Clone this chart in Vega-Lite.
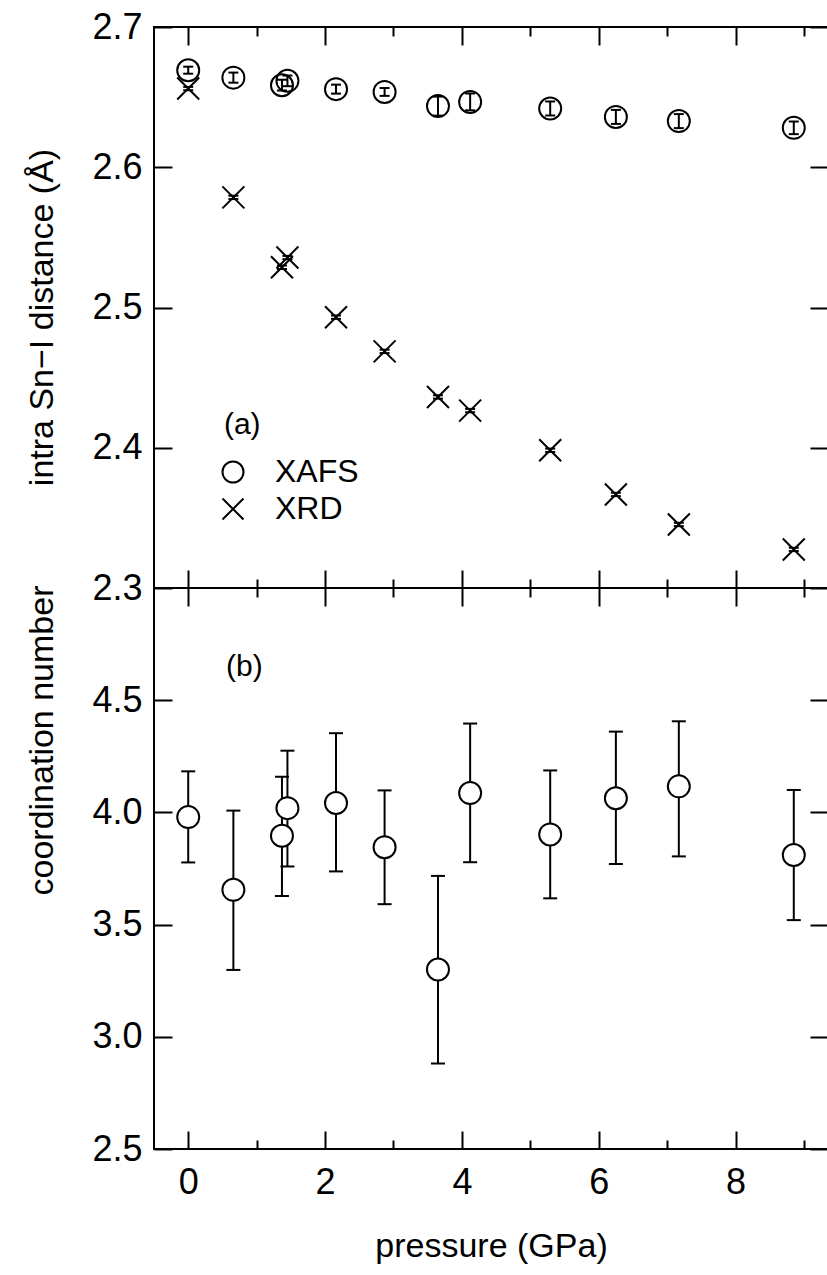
{
  "$schema": "https://vega.github.io/schema/vega-lite/v6.json",
  "padding": {"left": 24, "top": 8, "right": 1, "bottom": 4},
  "background": "white",
  "datasets": {
    "dist": [
      {"p": 0, "series": "XAFS", "v": 2.6692, "lo": 2.6667, "hi": 2.6717},
      {"p": 0.66, "series": "XAFS", "v": 2.6639, "lo": 2.6603, "hi": 2.6675},
      {"p": 1.37, "series": "XAFS", "v": 2.6585, "lo": 2.6547, "hi": 2.6623},
      {"p": 1.45, "series": "XAFS", "v": 2.6616, "lo": 2.6578, "hi": 2.6654},
      {"p": 2.16, "series": "XAFS", "v": 2.6557, "lo": 2.6525, "hi": 2.6589},
      {"p": 2.87, "series": "XAFS", "v": 2.6537, "lo": 2.6509, "hi": 2.6565},
      {"p": 3.65, "series": "XAFS", "v": 2.6436, "lo": 2.6368, "hi": 2.6504},
      {"p": 4.12, "series": "XAFS", "v": 2.6466, "lo": 2.6406, "hi": 2.6526},
      {"p": 5.29, "series": "XAFS", "v": 2.6419, "lo": 2.6369, "hi": 2.6469},
      {"p": 6.25, "series": "XAFS", "v": 2.6359, "lo": 2.6309, "hi": 2.6409},
      {"p": 7.17, "series": "XAFS", "v": 2.6329, "lo": 2.6279, "hi": 2.6379},
      {"p": 8.85, "series": "XAFS", "v": 2.6281, "lo": 2.6236, "hi": 2.6326},
      {"p": 0, "series": "XRD", "v": 2.6561, "lo": 2.6549, "hi": 2.6573},
      {"p": 0.66, "series": "XRD", "v": 2.5785, "lo": 2.5773, "hi": 2.5797},
      {"p": 1.37, "series": "XRD", "v": 2.5287, "lo": 2.5275, "hi": 2.5299},
      {"p": 1.45, "series": "XRD", "v": 2.5356, "lo": 2.5344, "hi": 2.5368},
      {"p": 2.16, "series": "XRD", "v": 2.4931, "lo": 2.4919, "hi": 2.4943},
      {"p": 2.87, "series": "XRD", "v": 2.4687, "lo": 2.4675, "hi": 2.4699},
      {"p": 3.65, "series": "XRD", "v": 2.4362, "lo": 2.435, "hi": 2.4374},
      {"p": 4.12, "series": "XRD", "v": 2.4265, "lo": 2.4253, "hi": 2.4277},
      {"p": 5.29, "series": "XRD", "v": 2.3982, "lo": 2.397, "hi": 2.3994},
      {"p": 6.25, "series": "XRD", "v": 2.3667, "lo": 2.3655, "hi": 2.3679},
      {"p": 7.17, "series": "XRD", "v": 2.3453, "lo": 2.3441, "hi": 2.3465},
      {"p": 8.85, "series": "XRD", "v": 2.3275, "lo": 2.3263, "hi": 2.3287}
    ],
    "coord": [
      {"p": 0, "v": 3.979, "lo": 3.777, "hi": 4.183},
      {"p": 0.66, "v": 3.655, "lo": 3.298, "hi": 4.008},
      {"p": 1.37, "v": 3.896, "lo": 3.628, "hi": 4.159},
      {"p": 1.45, "v": 4.019, "lo": 3.759, "hi": 4.275},
      {"p": 2.16, "v": 4.042, "lo": 3.737, "hi": 4.353},
      {"p": 2.87, "v": 3.845, "lo": 3.591, "hi": 4.098},
      {"p": 3.65, "v": 3.3, "lo": 2.881, "hi": 3.717},
      {"p": 4.12, "v": 4.086, "lo": 3.778, "hi": 4.396},
      {"p": 5.29, "v": 3.902, "lo": 3.617, "hi": 4.187},
      {"p": 6.25, "v": 4.063, "lo": 3.77, "hi": 4.36},
      {"p": 7.17, "v": 4.116, "lo": 3.804, "hi": 4.406},
      {"p": 8.85, "v": 3.81, "lo": 3.52, "hi": 4.1}
    ],
    "panelA": [{"p": 0.79, "v": 2.416, "label": "(a)"}],
    "panelB": [{"p": 0.82, "v": 4.65, "label": "(b)"}]
  },
  "vconcat": [
    {
      "width": 674,
      "height": 561,
      "data": {"name": "dist"},
      "layer": [
        {
          "mark": {"type": "rule", "color": "black", "strokeWidth": 2},
          "encoding": {
            "x": {
              "field": "p", "type": "quantitative",
              "scale": {"domain": [-0.5, 9.35], "nice": false, "zero": false},
              "axis": {
                "orient": "bottom", "values": [0, 1, 2, 3, 4, 5, 6, 7, 8, 9],
                "labels": false, "title": null,
                "tickSize": {"condition": {"test": "datum.value % 2 === 0", "value": -18}, "value": -9}
              }
            },
            "y": {
              "field": "lo", "type": "quantitative",
              "scale": {"domain": [2.3, 2.7], "nice": false, "zero": false},
              "axis": {
                "orient": "left", "values": [2.3, 2.4, 2.5, 2.6, 2.7], "format": ".1f",
                "tickSize": -18, "labelPadding": 30,
                "title": "intra Sn−I distance (Å)",
                "titleX": -112, "titleY": 290, "titleAngle": 270,
                "titleAlign": "center", "titleBaseline": "middle"
              }
            },
            "y2": {"field": "hi"}
          }
        },
        {
          "mark": {"type": "tick", "orient": "horizontal", "size": 10, "thickness": 2, "color": "black", "opacity": 1},
          "encoding": {
            "x": {"field": "p", "type": "quantitative", "axis": null},
            "y": {"field": "lo", "type": "quantitative", "axis": null}
          }
        },
        {
          "mark": {"type": "tick", "orient": "horizontal", "size": 10, "thickness": 2, "color": "black", "opacity": 1},
          "encoding": {
            "x": {"field": "p", "type": "quantitative", "axis": null},
            "y": {"field": "hi", "type": "quantitative", "axis": null}
          }
        },
        {
          "mark": {"type": "point", "filled": false, "stroke": "black", "strokeWidth": 2, "size": 484, "opacity": 1},
          "encoding": {
            "x": {
              "field": "p", "type": "quantitative",
              "axis": {
                "orient": "top", "values": [0, 1, 2, 3, 4, 5, 6, 7, 8, 9],
                "labels": false, "title": null,
                "tickSize": {"condition": {"test": "datum.value % 2 === 0", "value": -18}, "value": -9}
              }
            },
            "y": {
              "field": "v", "type": "quantitative",
              "axis": {
                "orient": "right", "values": [2.3, 2.4, 2.5, 2.6, 2.7],
                "labels": false, "title": null, "tickSize": -18
              }
            },
            "shape": {
              "field": "series", "type": "nominal",
              "scale": {"domain": ["XAFS", "XRD"], "range": ["circle", "M-1,-1L1,1M-1,1L1,-1"]},
              "legend": {
                "orient": "none", "legendX": 63, "legendY": 429, "title": null,
                "padding": 0, "labelFontSize": 32, "labelFont": "Liberation Sans",
                "labelColor": "black", "symbolSize": 441, "symbolStrokeWidth": 2,
                "symbolStrokeColor": "black", "symbolFillColor": "transparent",
                "labelOffset": 26, "rowPadding": 5
              }
            }
          }
        },
        {
          "data": {"name": "panelA"},
          "mark": {"type": "text", "fontSize": 30, "font": "Liberation Sans", "color": "black"},
          "encoding": {
            "x": {"field": "p", "type": "quantitative", "axis": null},
            "y": {"field": "v", "type": "quantitative", "axis": null},
            "text": {"field": "label"}
          }
        }
      ],
      "resolve": {"axis": {"x": "independent", "y": "independent"}}
    },
    {
      "width": 674,
      "height": 561,
      "data": {"name": "coord"},
      "layer": [
        {
          "mark": {"type": "rule", "color": "black", "strokeWidth": 2},
          "encoding": {
            "x": {
              "field": "p", "type": "quantitative",
              "scale": {"domain": [-0.5, 9.35], "nice": false, "zero": false},
              "axis": {
                "orient": "bottom", "values": [0, 1, 2, 3, 4, 5, 6, 7, 8, 9],
                "labelExpr": "datum.value % 2 === 0 ? datum.label : ''",
                "labelPadding": 34,
                "tickSize": {"condition": {"test": "datum.value % 2 === 0", "value": -18}, "value": -9},
                "title": "pressure (GPa)",
                "titleY": 97, "titleBaseline": "middle"
              }
            },
            "y": {
              "field": "lo", "type": "quantitative",
              "scale": {"domain": [2.5, 5.0], "nice": false, "zero": false},
              "axis": {
                "orient": "left", "values": [2.5, 3.0, 3.5, 4.0, 4.5], "format": ".1f",
                "tickSize": -18, "labelPadding": 30,
                "title": "coordination number",
                "titleX": -112, "titleY": 152, "titleAngle": 270,
                "titleAlign": "center", "titleBaseline": "middle"
              }
            },
            "y2": {"field": "hi"}
          }
        },
        {
          "mark": {"type": "tick", "orient": "horizontal", "size": 14, "thickness": 2, "color": "black", "opacity": 1},
          "encoding": {
            "x": {"field": "p", "type": "quantitative", "axis": null},
            "y": {"field": "lo", "type": "quantitative", "axis": null}
          }
        },
        {
          "mark": {"type": "tick", "orient": "horizontal", "size": 14, "thickness": 2, "color": "black", "opacity": 1},
          "encoding": {
            "x": {"field": "p", "type": "quantitative", "axis": null},
            "y": {"field": "hi", "type": "quantitative", "axis": null}
          }
        },
        {
          "mark": {"type": "point", "shape": "circle", "filled": false, "fill": "white", "stroke": "black", "strokeWidth": 2, "size": 484, "opacity": 1},
          "encoding": {
            "x": {
              "field": "p", "type": "quantitative",
              "axis": {
                "orient": "top", "values": [0, 1, 2, 3, 4, 5, 6, 7, 8, 9],
                "labels": false, "title": null,
                "tickSize": {"condition": {"test": "datum.value % 2 === 0", "value": -18}, "value": -9}
              }
            },
            "y": {
              "field": "v", "type": "quantitative",
              "axis": {
                "orient": "right", "values": [2.5, 3.0, 3.5, 4.0, 4.5],
                "labels": false, "title": null, "tickSize": -18
              }
            }
          }
        },
        {
          "data": {"name": "panelB"},
          "mark": {"type": "text", "fontSize": 30, "font": "Liberation Sans", "color": "black"},
          "encoding": {
            "x": {"field": "p", "type": "quantitative", "axis": null},
            "y": {"field": "v", "type": "quantitative", "axis": null},
            "text": {"field": "label"}
          }
        }
      ],
      "resolve": {"axis": {"x": "independent", "y": "independent"}}
    }
  ],
  "spacing": 0,
  "bounds": "flush",
  "config": {
    "view": {"stroke": "black", "strokeWidth": 2},
    "axis": {
      "grid": false, "domain": false,
      "tickColor": "black", "tickWidth": 2,
      "labelFont": "Liberation Sans", "labelFontSize": 36, "labelColor": "black",
      "titleFont": "Liberation Sans", "titleFontSize": 34, "titleFontWeight": "normal", "titleColor": "black"
    },
    "text": {"font": "Liberation Sans"}
  }
}
